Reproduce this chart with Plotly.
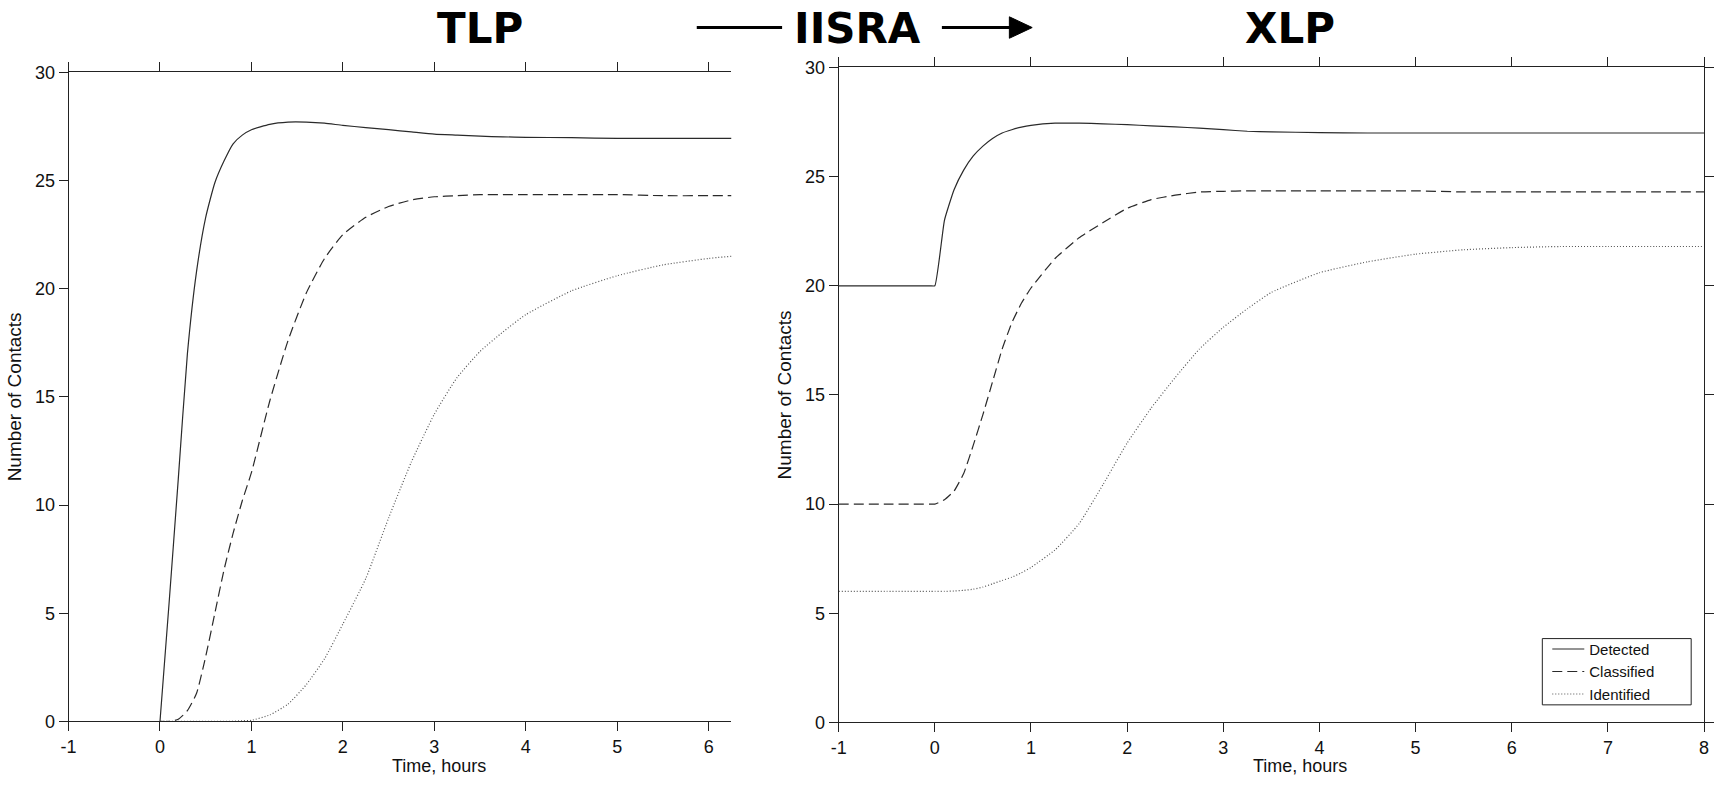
import plotly.graph_objects as go

W, H = 1720, 786

# ---------------- data ----------------
tlp_time = [0, 0.1, 0.2, 0.3, 0.4, 0.5, 0.6, 0.7, 0.8, 0.9, 1.0, 1.2, 1.4, 1.6, 1.8, 2.0,
            2.25, 2.5, 2.75, 3.0, 3.25, 3.5, 3.75, 4.0, 4.5, 5.0, 5.5, 6.0, 6.25]
tlp_detected = [0, 5.5, 11.2, 17.0, 20.8, 23.3, 24.9, 25.9, 26.7, 27.1, 27.35, 27.6, 27.7, 27.7,
                27.65, 27.55, 27.45, 27.35, 27.25, 27.15, 27.1, 27.05, 27.02, 27.0, 26.98,
                26.95, 26.95, 26.95, 26.95]
tlp_classified = [0, 0, 0.1, 0.5, 1.3, 3.0, 5.0, 7.0, 8.7, 10.2, 11.5, 14.8, 17.6, 19.8, 21.4,
                  22.5, 23.3, 23.8, 24.1, 24.25, 24.3, 24.35, 24.35, 24.35, 24.35, 24.35,
                  24.3, 24.3, 24.3]
tlp_identified = [0, 0, 0, 0, 0, 0, 0, 0, 0.01, 0.03, 0.05, 0.3, 0.8, 1.7, 2.9, 4.5, 6.6, 9.4,
                  12.0, 14.2, 15.9, 17.1, 18.0, 18.8, 19.9, 20.6, 21.1, 21.4, 21.5]

xlp_time = [-1, -0.5, -0.05, 0, 0.1, 0.2, 0.3, 0.4, 0.5, 0.6, 0.7, 0.8, 0.9, 1.0, 1.25, 1.5,
            1.75, 2.0, 2.25, 2.5, 2.75, 3.0, 3.25, 3.5, 4.0, 4.5, 5.0, 5.5, 6.0, 6.5, 7.0,
            7.5, 8.0]
xlp_detected = [20, 20, 20, 20, 23.0, 24.4, 25.3, 25.95, 26.4, 26.75, 27.0, 27.15, 27.27, 27.35,
                27.45, 27.45, 27.42, 27.38, 27.33, 27.28, 27.22, 27.15, 27.08, 27.05, 27.02,
                27.0, 27.0, 27.0, 27.0, 27.0, 27.0, 27.0, 27.0]
xlp_classified = [10, 10, 10, 10, 10.2, 10.6, 11.4, 12.7, 14.1, 15.6, 17.1, 18.3, 19.2, 19.9,
                  21.25, 22.2, 22.9, 23.55, 23.95, 24.15, 24.3, 24.33, 24.35, 24.35, 24.35,
                  24.35, 24.35, 24.3, 24.3, 24.3, 24.3, 24.3, 24.3]
xlp_identified = [6, 6, 6, 6, 6.0, 6.02, 6.05, 6.1, 6.2, 6.35, 6.5, 6.65, 6.85, 7.1, 7.9, 9.1,
                  10.9, 12.8, 14.4, 15.8, 17.1, 18.1, 18.95, 19.7, 20.6, 21.1, 21.45, 21.65,
                  21.75, 21.8, 21.8, 21.8, 21.8]

series_names = ["Detected", "Classified", "Identified"]
x_ticks_tlp = [-1, 0, 1, 2, 3, 4, 5, 6]
x_ticks_xlp = [-1, 0, 1, 2, 3, 4, 5, 6, 7, 8]
y_ticks = [0, 5, 10, 15, 20, 25, 30]
panel_titles = ["TLP", "IISRA", "XLP"]
x_title = "Time, hours"
y_title = "Number of Contacts"

# ---------------- styling ----------------
styles = [dict(color="#2a2a2a", width=1.2, dash="solid"),
          dict(color="#2a2a2a", width=1.2, dash="10px,5px"),
          dict(color="#555555", width=1.2, dash="1px,2px")]


def px(p):
    return p / W


def py(p):
    return 1 - p / H


fig = go.Figure()

for name, ys, st in zip(series_names, [tlp_detected, tlp_classified, tlp_identified], styles):
    fig.add_trace(go.Scatter(x=tlp_time, y=ys, mode="lines", name=name, showlegend=False,
                             line=dict(shape="spline", smoothing=0.5, **st),
                             xaxis="x", yaxis="y", hoverinfo="skip"))
for name, ys, st in zip(series_names, [xlp_detected, xlp_classified, xlp_identified], styles):
    fig.add_trace(go.Scatter(x=xlp_time, y=ys, mode="lines", name=name, showlegend=True,
                             line=dict(shape="spline", smoothing=0.4, **st),
                             xaxis="x2", yaxis="y2", hoverinfo="skip"))

narrow = "Liberation Sans Narrow, Arial Narrow, Liberation Sans, Arial, sans-serif"
regular = "Liberation Sans, Arial, sans-serif"
tick_font = dict(family=narrow, size=18, color="#111")
xtitle_font = dict(family=narrow, size=18, color="#111")
ytitle_font = dict(family=regular, size=19, color="#111")
axis_common = dict(showline=True, linecolor="#222", linewidth=1, ticks="outside", ticklen=9,
                   tickcolor="#222", tickwidth=1, showgrid=False, zeroline=False,
                   tickfont=tick_font)

fig.update_layout(
    width=W, height=H,
    margin=dict(l=0, r=0, t=0, b=0),
    paper_bgcolor="white", plot_bgcolor="white",
    xaxis=dict(domain=[px(61), px(729)], range=[-1, 6.25], tickvals=x_ticks_tlp,
               ticktext=[str(v) for v in x_ticks_tlp], mirror="ticks", anchor="y", **axis_common),
    yaxis=dict(domain=[py(730), py(64)], range=[0, 30], tickvals=y_ticks,
               ticktext=[str(v) for v in y_ticks], mirror=False, anchor="x",
               title=dict(text=y_title, font=ytitle_font, standoff=8), **axis_common),
    xaxis2=dict(domain=[px(837), px(1709)], range=[-1, 8], tickvals=x_ticks_xlp,
                ticktext=[str(v) for v in x_ticks_xlp], mirror="ticks", anchor="y2",
                **axis_common),
    yaxis2=dict(domain=[py(731), py(59)], range=[0, 30], tickvals=y_ticks,
                ticktext=[str(v) for v in y_ticks], mirror="ticks", anchor="x2",
                title=dict(text=y_title, font=ytitle_font, standoff=8), **axis_common),
    legend=dict(x=px(1551), xanchor="left", y=py(639), yanchor="top",
                bgcolor="rgba(0,0,0,0)", borderwidth=0,
                font=dict(family=regular, size=15, color="#111"),
                itemwidth=32, tracegroupgap=0),
)

# legend frame
fig.add_shape(type="rect", xref="paper", yref="paper",
              x0=px(1546), x1=px(1696), y0=py(713), y1=py(645),
              line=dict(color="#222", width=1), fillcolor="white", layer="above")

# x-axis titles
fig.add_annotation(text=x_title, x=3.05, xref="x", y=py(776), yref="paper",
                   showarrow=False, font=xtitle_font, xanchor="center", yanchor="middle")
fig.add_annotation(text=x_title, x=3.8, xref="x2", y=py(776), yref="paper",
                   showarrow=False, font=xtitle_font, xanchor="center", yanchor="middle")

# big titles
big = dict(family="DejaVu Sans, Verdana, sans-serif", size=42, color="black")
for txt, cx in zip(panel_titles, [476, 856, 1292]):
    fig.add_annotation(text="<b>%s</b>" % txt, x=px(cx), y=py(19), xref="paper", yref="paper",
                       showarrow=False, font=big, xanchor="center", yanchor="middle")

# decorative line and arrow around IISRA
fig.add_shape(type="line", xref="paper", yref="paper", x0=px(694), x1=px(780), y0=py(18), y1=py(18),
              line=dict(color="black", width=3))
fig.add_shape(type="line", xref="paper", yref="paper", x0=px(941), x1=px(1012), y0=py(18), y1=py(18),
              line=dict(color="black", width=3))
fig.add_shape(type="path", xref="paper", yref="paper",
              path="M %f,%f L %f,%f L %f,%f Z" % (px(1009), py(7), px(1032), py(18), px(1009), py(29)),
              fillcolor="black", line=dict(color="black", width=1))

fig.write_html("out.html")
